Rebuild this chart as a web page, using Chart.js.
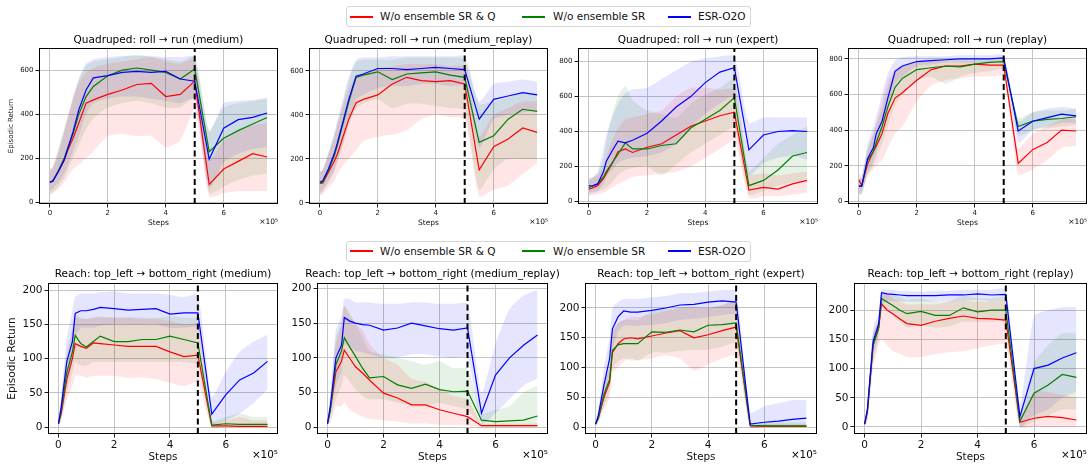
<!DOCTYPE html>
<html>
<head>
<meta charset="utf-8">
<script src="https://cdn.jsdelivr.net/npm/chart.js@4.4.0/dist/chart.umd.min.js"></script>
<style>
body { margin:0; background:#fff; width:1088px; height:468px; overflow:hidden; position:relative; font-family:"DejaVu Sans",sans-serif; }
canvas { position:absolute; }
.legend { position:absolute; left:346px; width:403px; height:19px; border:1px solid #d6d6d6; border-radius:3px; background:#fff; font-size:10.5px; color:#111; }
.legend .ln { position:absolute; top:9px; height:2px; width:23px; }
.legend .tx { position:absolute; top:3px; white-space:nowrap; }
</style>
</head>
<body>

<div class="legend" style="top:6px">
  <div class="ln" style="left:3px;background:#ff0000"></div><div class="tx" style="left:33px">W/o ensemble SR &amp; Q</div>
  <div class="ln" style="left:175px;background:#008000"></div><div class="tx" style="left:206px">W/o ensemble SR</div>
  <div class="ln" style="left:321px;background:#0000ff"></div><div class="tx" style="left:351px">ESR-O2O</div>
</div>
<div class="legend" style="top:241px">
  <div class="ln" style="left:3px;top:8px;background:#ff0000"></div><div class="tx" style="left:33px">W/o ensemble SR &amp; Q</div>
  <div class="ln" style="left:175px;top:8px;background:#008000"></div><div class="tx" style="left:206px">W/o ensemble SR</div>
  <div class="ln" style="left:321px;top:8px;background:#0000ff"></div><div class="tx" style="left:351px">ESR-O2O</div>
</div>

<script>
// steps in units of 1e5
var steps = [0,0.1,0.3,0.5,0.6,0.8,1,1.25,1.5,2,2.5,3,3.5,4,4.5,5,5.5,6,6.5,7,7.5];
var switchStep = 5;
var seriesNames = ["W/o ensemble SR & Q","W/o ensemble SR","ESR-O2O"];

var titles = [
  "Quadruped: roll \u2192 run (medium)",
  "Quadruped: roll \u2192 run (medium_replay)",
  "Quadruped: roll \u2192 run (expert)",
  "Quadruped: roll \u2192 run (replay)",
  "Reach: top_left \u2192 bottom_right (medium)",
  "Reach: top_left \u2192 bottom_right (medium_replay)",
  "Reach: top_left \u2192 bottom_right (expert)",
  "Reach: top_left \u2192 bottom_right (replay)"
];

// Quadruped medium
var qm_r   = [92,95,140,190,230,290,360,450,465,490,510,535,540,480,490,550,80,150,185,220,205];
var qm_rLo = [30,40,60,90,110,150,170,200,230,300,310,300,300,250,280,420,25,40,50,50,50];
var qm_rHi = [150,160,230,330,380,470,540,590,610,630,640,650,660,640,630,650,190,280,320,350,360];
var qm_g   = [90,95,145,200,240,310,400,480,526,575,600,610,600,590,560,605,229,290,325,355,385];
var qm_gLo = [40,45,70,110,140,200,260,330,380,430,450,460,450,430,430,470,40,70,100,120,130];
var qm_gHi = [150,160,250,340,380,480,560,620,640,650,660,670,660,650,640,660,330,430,450,460,470];
var qm_b   = [90,95,140,195,235,320,420,510,565,575,590,595,590,595,560,550,195,336,375,385,405];
var qm_bLo = [50,60,90,130,160,230,300,400,450,470,480,480,470,460,450,470,60,180,220,240,250];
var qm_bHi = [140,150,230,320,370,470,560,630,650,660,665,665,665,660,660,660,320,450,460,465,475];

// Quadruped medium_replay
var qmr_r   = [90,90,140,190,220,300,380,455,470,490,540,570,555,550,555,540,150,255,290,340,320];
var qmr_rLo = [30,40,70,100,130,170,200,240,280,300,310,330,380,400,390,380,30,60,80,130,180];
var qmr_rHi = [140,150,220,300,350,440,520,570,590,610,620,630,630,630,620,620,300,400,430,460,460];
var qmr_g   = [90,95,150,215,260,360,460,570,580,595,560,585,590,595,580,570,275,305,380,425,415];
var qmr_gLo = [40,50,90,140,180,260,350,430,450,470,430,450,450,440,430,420,60,150,200,200,200];
var qmr_gHi = [140,150,230,310,360,460,560,640,650,650,650,660,660,660,660,650,450,460,480,500,500];
var qmr_b   = [95,100,155,225,270,370,470,575,585,610,610,605,610,615,610,605,380,470,485,500,490];
var qmr_bLo = [50,60,100,150,190,270,370,470,490,520,530,530,540,540,530,530,250,380,400,410,420];
var qmr_bHi = [140,150,230,320,370,470,570,650,660,660,665,665,665,665,665,665,460,540,550,560,550];

// Quadruped expert
var qe_r   = [70,75,90,130,160,217,284,300,280,310,330,380,430,460,490,510,65,80,70,100,120];
var qe_rLo = [30,35,40,50,60,80,100,120,140,150,160,170,200,250,300,350,20,30,30,40,50];
var qe_rHi = [120,130,150,200,260,350,420,470,480,500,520,600,650,650,640,640,160,160,150,160,170];
var qe_g   = [80,85,100,140,170,220,270,335,300,300,320,330,420,470,520,594,90,120,180,260,280];
var qe_gLo = [40,45,55,70,80,110,150,180,190,200,150,210,280,330,380,420,40,60,90,110,130];
var qe_gHi = [130,135,160,250,350,500,600,660,580,520,500,480,560,610,650,700,180,250,330,380,430];
var qe_b   = [90,88,100,170,230,290,345,335,350,390,460,540,600,680,740,765,295,380,400,405,400];
var qe_bLo = [50,55,60,100,140,180,220,240,250,260,280,330,420,500,560,600,150,220,250,260,240];
var qe_bHi = [130,135,170,300,380,480,560,620,640,650,700,750,800,820,830,830,450,480,480,480,480];

// Quadruped replay
var qr_r   = [120,90,209,280,310,380,493,580,610,680,740,760,760,770,765,765,213,290,330,400,395];
var qr_rLo = [50,60,140,180,200,230,300,380,420,560,650,680,690,700,700,700,150,180,230,300,310];
var qr_rHi = [150,150,280,380,440,560,680,740,760,780,790,790,790,790,790,790,300,380,420,460,460];
var qr_g   = [85,85,230,280,330,420,530,640,690,740,750,760,755,770,780,785,420,450,460,465,475];
var qr_gLo = [40,40,150,200,250,320,420,540,600,680,700,660,700,720,730,740,370,400,410,420,430];
var qr_gHi = [130,130,300,380,430,520,640,730,760,790,800,800,800,800,800,800,470,500,510,510,520];
var qr_b   = [85,85,240,300,380,450,580,730,760,785,790,795,800,800,800,805,395,450,470,490,480];
var qr_bLo = [40,40,160,220,280,380,500,660,700,760,770,780,780,780,780,780,330,400,420,440,440];
var qr_bHi = [130,130,320,420,480,600,720,790,810,815,815,815,820,820,820,820,450,500,520,530,520];

// Reach medium
var rm_r   = [5,20,70,100,122,118,115,123,122,120,118,118,118,110,103,105,2,2,1,1,1];
var rm_rLo = [2,10,40,60,75,75,72,75,75,75,72,72,70,65,60,65,0,0,0,0,0];
var rm_rHi = [8,35,100,140,160,158,158,160,160,160,160,158,158,155,150,150,8,10,15,10,10];
var rm_g   = [5,25,80,110,134,122,117,125,133,125,125,128,128,133,128,123,3,5,4,4,4];
var rm_gLo = [2,10,50,80,95,90,90,95,95,95,95,95,95,95,95,90,0,0,0,0,0];
var rm_gHi = [8,40,110,145,165,160,158,160,162,160,160,160,160,162,160,158,10,15,20,15,15];
var rm_b   = [5,30,96,125,166,170,170,172,175,173,171,172,173,165,167,167,19,47,69,79,96];
var rm_bLo = [2,15,60,95,130,145,145,145,148,150,150,150,150,145,145,145,5,10,20,35,55];
var rm_bHi = [8,45,130,170,190,195,195,195,197,198,195,195,195,193,190,193,45,80,110,125,135];

// Reach medium_replay
var rmr_r   = [5,25,80,95,111,99,87,78,68,49,42,32,32,25,20,15,2,2,2,2,2];
var rmr_rLo = [2,8,30,30,35,25,20,15,12,10,8,5,5,3,3,2,0,0,0,0,0];
var rmr_rHi = [8,40,120,150,175,160,150,140,120,100,90,70,65,55,45,40,5,5,5,5,5];
var rmr_g   = [5,25,90,110,129,115,102,85,71,73,61,56,62,54,51,52,10,8,9,10,16];
var rmr_gLo = [2,10,40,60,75,65,55,45,40,40,35,30,30,35,30,25,0,0,0,0,0];
var rmr_gHi = [8,40,130,150,175,165,150,130,110,105,100,95,90,95,85,85,20,25,30,50,60];
var rmr_b   = [5,30,100,118,158,153,150,148,147,140,143,150,146,142,140,143,20,75,100,118,133];
var rmr_bLo = [2,15,60,80,120,115,110,108,105,100,100,105,105,102,100,100,5,20,40,60,70];
var rmr_bHi = [8,45,140,160,185,185,180,180,180,178,178,180,180,178,178,178,50,120,170,190,198];

// Reach expert
var re_r   = [5,15,50,75,125,140,148,150,148,153,158,162,150,155,162,168,2,1,1,1,1];
var re_rLo = [2,8,30,50,90,100,110,115,112,115,120,115,95,105,115,120,0,0,0,0,0];
var re_rHi = [8,25,75,100,160,175,180,185,185,190,195,200,200,200,205,210,5,5,5,5,5];
var re_g   = [5,15,55,80,129,138,140,140,140,160,159,163,160,171,172,175,3,2,2,2,2];
var re_gLo = [2,8,35,60,100,110,115,112,112,125,125,128,130,130,135,140,0,0,0,0,0];
var re_gHi = [8,25,80,110,160,175,180,180,180,195,198,200,202,200,205,210,8,8,8,8,8];
var re_b   = [5,20,71,115,165,185,195,193,193,196,200,205,206,210,212,210,5,8,10,13,15];
var re_bLo = [2,10,50,90,130,160,170,170,170,172,175,180,182,185,188,188,0,0,0,0,0];
var re_bHi = [8,30,100,150,200,210,215,215,215,218,220,225,225,228,230,228,25,35,40,45,45];

// Reach replay
var rr_r   = [5,25,140,170,211,200,194,185,177,174,181,186,190,186,185,183,8,15,18,16,12];
var rr_rLo = [2,10,100,140,150,140,130,125,120,120,125,128,130,135,140,140,0,0,0,0,0];
var rr_rHi = [8,40,160,185,230,228,220,215,210,210,210,215,215,215,215,215,20,60,60,55,50];
var rr_g   = [5,28,140,170,220,214,208,200,194,198,191,191,204,197,200,200,10,58,72,90,85];
var rr_gLo = [2,12,110,150,205,200,190,180,170,175,170,172,180,180,180,180,0,10,20,30,30];
var rr_gHi = [8,40,160,185,232,228,225,222,218,220,215,215,225,220,220,220,25,110,140,160,160];
var rr_b   = [5,30,146,177,230,228,227,226,225,225,225,226,226,228,226,227,18,100,106,118,127];
var rr_bLo = [2,15,120,160,210,215,215,215,215,215,215,215,215,218,215,215,0,20,30,50,60];
var rr_bHi = [8,45,170,195,235,235,235,233,233,232,233,233,235,235,235,235,40,190,200,205,205];

var lineColors = ["#ff0000", "#008000", "#0000ff"];
var bandColors = ["rgba(255,0,0,0.1)", "rgba(0,128,0,0.1)", "rgba(0,0,255,0.1)"];

// panel setup: plot box [left, top, right, bottom] in page pixels
var panels = [
  {t:0, m:[qm_r,qm_g,qm_b], lo:[qm_rLo,qm_gLo,qm_bLo], hi:[qm_rHi,qm_gHi,qm_bHi], ymin:-9, ymax:701, step:200, box:[39,48,278,204], yw:39, row:0, ylab:true},
  {t:1, m:[qmr_r,qmr_g,qmr_b], lo:[qmr_rLo,qmr_gLo,qmr_bLo], hi:[qmr_rHi,qmr_gHi,qmr_bHi], ymin:-5, ymax:703, step:200, box:[309,48,548,204], yw:30, row:0},
  {t:2, m:[qe_r,qe_g,qe_b], lo:[qe_rLo,qe_gLo,qe_bLo], hi:[qe_rHi,qe_gHi,qe_bHi], ymin:-15, ymax:878, step:200, box:[578,48,818,204], yw:30, row:0},
  {t:3, m:[qr_r,qr_g,qr_b], lo:[qr_rLo,qr_gLo,qr_bLo], hi:[qr_rHi,qr_gHi,qr_bHi], ymin:-15, ymax:861, step:200, box:[848,48,1087,204], yw:30, row:0},
  {t:4, m:[rm_r,rm_g,rm_b], lo:[rm_rLo,rm_gLo,rm_bLo], hi:[rm_rHi,rm_gHi,rm_bHi], ymin:-10, ymax:210.5, step:50, box:[48,283,278,434], yw:48, row:1, ylab:true},
  {t:5, m:[rmr_r,rmr_g,rmr_b], lo:[rmr_rLo,rmr_gLo,rmr_bLo], hi:[rmr_rHi,rmr_gHi,rmr_bHi], ymin:-10, ymax:208, step:50, box:[317,283,548,434], yw:32, row:1},
  {t:6, m:[re_r,re_g,re_b], lo:[re_rLo,re_gLo,re_bLo], hi:[re_rHi,re_gHi,re_bHi], ymin:-11.7, ymax:242, step:50, box:[585,283,817,434], yw:32, row:1},
  {t:7, m:[rr_r,rr_g,rr_b], lo:[rr_rLo,rr_gLo,rr_bLo], hi:[rr_rHi,rr_gHi,rr_bHi], ymin:-12, ymax:246.5, step:50, box:[854,283,1087,434], yw:32, row:1}
];

var rows = [
  {padTop:15, xh:28, tick:7, title:10.5, titleOff:8, steps:7.5, stepsPad:4.5, off:7.5, offY:18, ylab:7, ylabPad:7.3},
  {padTop:16, xh:34, tick:10.5, title:10.5, titleOff:9, steps:10.4, stepsPad:4.8, off:10.4, offY:21, ylab:10.6, ylabPad:5.6}
];

var extraRight = 40; // canvas room so long titles are not cut

function pts(arr) {
  return arr.map(function(v, i) { return {x: steps[i], y: v}; });
}

var framePlugin = {
  id: 'frame',
  afterDraw: function(chart, args, o) {
    var a = chart.chartArea, ctx = chart.ctx;
    ctx.save();
    ctx.strokeStyle = '#000';
    ctx.lineWidth = 1;
    ctx.strokeRect(Math.round(a.left) + 0.5, Math.round(a.top) + 0.5, Math.round(a.right - a.left) - 1, Math.round(a.bottom - a.top) - 1);
    ctx.fillStyle = '#000';
    ctx.textAlign = 'center';
    ctx.textBaseline = 'middle';
    ctx.font = o.titleSize + 'px "DejaVu Sans"';
    ctx.fillText(o.title, (a.left + a.right) / 2, a.top - o.titleOff);
    ctx.textAlign = 'right';
    ctx.font = o.offSize + 'px "DejaVu Sans"';
    ctx.fillText('\u00d710\u2075', a.right, a.bottom + o.offY);
    ctx.restore();
  }
};

panels.forEach(function(p) {
  var r = rows[p.row];
  var left = p.box[0] - p.yw;
  var top = p.box[1] - r.padTop;
  var cv = document.createElement('canvas');
  cv.width = p.box[2] - left + extraRight;
  cv.height = p.box[3] + r.xh - top;
  cv.style.left = left + 'px';
  cv.style.top = top + 'px';
  document.body.appendChild(cv);

  var ds = [];
  ds.push({data: [{x: switchStep, y: p.ymin}, {x: switchStep, y: p.ymax}], borderColor: '#000', borderWidth: 2, borderDash: [6, 3.5], pointRadius: 0, fill: false});
  for (var k = 2; k >= 0; k--) {
    ds.push({label: seriesNames[k], data: pts(p.m[k]), borderColor: lineColors[k], borderWidth: 1.2, pointRadius: 0, fill: false, tension: 0});
  }
  for (var j = 0; j < 3; j++) {
    ds.push({data: pts(p.hi[j]), borderWidth: 0, pointRadius: 0, backgroundColor: bandColors[j], fill: '+1', tension: 0.2});
    ds.push({data: pts(p.lo[j]), borderWidth: 0, pointRadius: 0, fill: false, tension: 0.2});
  }

  var gridOpts = {color: '#bdbdbd', lineWidth: 0.9, drawTicks: true, tickLength: 3.5, tickColor: '#000', tickWidth: 0.9};

  new Chart(cv.getContext('2d'), {
    type: 'line',
    data: {datasets: ds},
    plugins: [framePlugin],
    options: {
      responsive: false,
      animation: false,
      events: [],
      layout: {padding: {top: r.padTop, left: 0, right: extraRight, bottom: 0}},
      plugins: {
        legend: {display: false},
        tooltip: {enabled: false},
        frame: {title: titles[p.t], titleSize: r.title, titleOff: r.titleOff, offSize: r.off, offY: r.offY}
      },
      scales: {
        x: {
          type: 'linear', min: -0.375, max: 7.875,
          grid: gridOpts, border: {display: false},
          ticks: {stepSize: 2, includeBounds: false, padding: 1, color: '#111', font: {family: 'DejaVu Sans', size: r.tick}, maxRotation: 0},
          title: {display: true, text: 'Steps', color: '#111', font: {family: 'DejaVu Sans', size: r.steps}, padding: {top: 0, bottom: r.stepsPad}},
          afterFit: function(s) { s.height = r.xh; }
        },
        y: {
          type: 'linear', min: p.ymin, max: p.ymax,
          grid: gridOpts, border: {display: false},
          ticks: {stepSize: p.step, includeBounds: false, padding: 2, color: '#111', font: {family: 'DejaVu Sans', size: r.tick}},
          title: {display: !!p.ylab, text: 'Episodic Return', color: '#111', font: {family: 'DejaVu Sans', size: r.ylab}, padding: {top: r.ylabPad, bottom: 0}},
          afterFit: function(s) { s.width = p.yw; }
        }
      }
    }
  });
});
</script>
</body>
</html>
